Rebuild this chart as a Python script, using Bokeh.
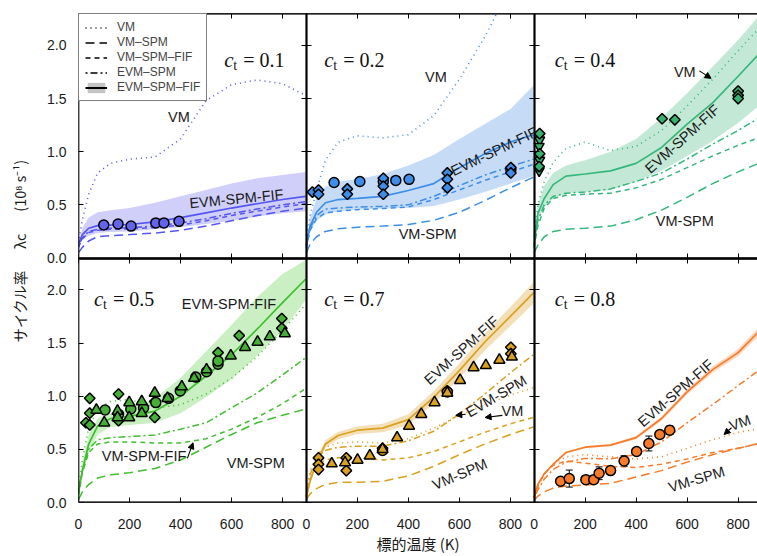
from bokeh.plotting import figure
from bokeh.models import (Range1d, LinearAxis, FixedTicker, Label, CustomJSTickFormatter,
                          Legend, LegendItem, Arrow, NormalHead, Whisker, TeeHead,
                          ColumnDataSource)
from bokeh.embed import file_html
from bokeh.resources import INLINE

# ---------------- data ----------------
T = [0, 15, 40, 75, 125, 200, 300, 400, 500, 600, 700, 800, 890]
X_TICKS = [0, 200, 400, 600, 800]
Y_TICKS = [0.0, 0.5, 1.0, 1.5, 2.0]
CT_LABELS = ["0.1", "0.2", "0.4", "0.5", "0.7", "0.8"]

# c_t = 0.1
VM_01 = [0.14, 0.36, 0.60, 0.80, 0.89, 0.93, 0.95, 1.12, 1.48, 1.63, 1.675, 1.64, 1.53]
VMSPM_01 = [0.05, 0.10, 0.16, 0.20, 0.21, 0.22, 0.235, 0.26, 0.30, 0.35, 0.40, 0.44, 0.47]
VMSPMFIF_01 = [0.10, 0.18, 0.24, 0.26, 0.27, 0.275, 0.285, 0.31, 0.35, 0.40, 0.44, 0.48, 0.51]
EVMSPM_01 = [0.11, 0.19, 0.25, 0.27, 0.28, 0.285, 0.30, 0.33, 0.37, 0.42, 0.46, 0.50, 0.53]
EVMSPMFIF_01 = [0.13, 0.22, 0.28, 0.305, 0.31, 0.315, 0.34, 0.38, 0.425, 0.47, 0.51, 0.55, 0.58]
HI_01 = [0.14, 0.28, 0.38, 0.43, 0.45, 0.47, 0.52, 0.58, 0.64, 0.70, 0.75, 0.78, 0.81]
LO_01 = [0.12, 0.17, 0.21, 0.235, 0.245, 0.25, 0.27, 0.29, 0.32, 0.35, 0.39, 0.42, 0.44]

# c_t = 0.2
VM_02 = [0.12, 0.40, 0.63, 0.92, 1.09, 1.15, 1.13, 1.16, 1.34, 1.68, 2.08, 2.55, 3.0]
VMSPM_02 = [0.05, 0.13, 0.20, 0.25, 0.275, 0.29, 0.30, 0.315, 0.355, 0.43, 0.54, 0.66, 0.76]
VMSPMFIF_02 = [0.09, 0.26, 0.37, 0.425, 0.44, 0.455, 0.465, 0.48, 0.55, 0.64, 0.73, 0.81, 0.88]
EVMSPM_02 = [0.10, 0.28, 0.40, 0.46, 0.47, 0.48, 0.485, 0.50, 0.58, 0.68, 0.78, 0.86, 0.93]
EVMSPMFIF_02 = [0.12, 0.30, 0.43, 0.52, 0.55, 0.56, 0.58, 0.635, 0.70, 0.85, 0.98, 1.09, 1.16]
HI_02 = [0.13, 0.38, 0.56, 0.67, 0.72, 0.74, 0.79, 0.87, 0.97, 1.12, 1.26, 1.40, 1.62]
LO_02 = [0.11, 0.25, 0.35, 0.41, 0.44, 0.455, 0.465, 0.47, 0.49, 0.55, 0.62, 0.70, 0.77]

# c_t = 0.4
VM_04 = [0.20, 0.50, 0.72, 0.90, 1.03, 1.09, 1.01, 1.05, 1.20, 1.43, 1.68, 1.95, 2.18]
VMSPM_04 = [0.05, 0.12, 0.20, 0.25, 0.27, 0.28, 0.30, 0.36, 0.45, 0.57, 0.70, 0.81, 0.90]
VMSPMFIF_04 = [0.10, 0.30, 0.47, 0.56, 0.59, 0.60, 0.61, 0.66, 0.74, 0.85, 0.96, 1.06, 1.14]
EVMSPM_04 = [0.12, 0.35, 0.50, 0.58, 0.61, 0.62, 0.65, 0.72, 0.80, 0.93, 1.07, 1.20, 1.33]
EVMSPMFIF_04 = [0.12, 0.42, 0.56, 0.69, 0.77, 0.79, 0.82, 0.89, 1.04, 1.26, 1.46, 1.71, 1.94]
HI_04 = [0.13, 0.50, 0.68, 0.80, 0.87, 0.92, 1.00, 1.12, 1.32, 1.55, 1.80, 2.05, 2.30]
LO_04 = [0.11, 0.35, 0.48, 0.56, 0.61, 0.62, 0.64, 0.72, 0.82, 0.96, 1.10, 1.27, 1.45]

# c_t = 0.5
VM_05 = [0.10, 0.40, 0.70, 0.88, 0.95, 0.97, 0.89, 0.92, 1.02, 1.17, 1.37, 1.62, 1.86]
VMSPM_05 = [0.03, 0.10, 0.17, 0.23, 0.26, 0.28, 0.32, 0.40, 0.52, 0.64, 0.75, 0.82, 0.88]
VMSPMFIF_05 = [0.07, 0.28, 0.47, 0.55, 0.57, 0.57, 0.56, 0.56, 0.60, 0.69, 0.80, 0.93, 1.07]
EVMSPM_05 = [0.08, 0.30, 0.50, 0.59, 0.61, 0.62, 0.635, 0.69, 0.75, 0.89, 1.03, 1.20, 1.36]
EVMSPMFIF_05 = [0.10, 0.30, 0.55, 0.72, 0.79, 0.81, 0.86, 1.00, 1.19, 1.39, 1.63, 1.88, 2.10]
HI_05 = [0.11, 0.36, 0.64, 0.79, 0.84, 0.88, 0.98, 1.17, 1.42, 1.67, 1.93, 2.15, 2.28]
LO_05 = [0.09, 0.25, 0.47, 0.64, 0.71, 0.73, 0.75, 0.84, 0.99, 1.16, 1.38, 1.62, 1.90]

# c_t = 0.7
VM_07 = [0.08, 0.30, 0.45, 0.52, 0.56, 0.57, 0.56, 0.60, 0.70, 0.82, 0.92, 1.01, 1.08]
VMSPM_07 = [0.03, 0.08, 0.13, 0.17, 0.19, 0.19, 0.20, 0.25, 0.34, 0.45, 0.55, 0.64, 0.71]
VMSPMFIF_07 = [0.06, 0.22, 0.34, 0.40, 0.42, 0.42, 0.40, 0.42, 0.48, 0.57, 0.66, 0.74, 0.80]
EVMSPM_07 = [0.07, 0.26, 0.42, 0.49, 0.52, 0.53, 0.53, 0.58, 0.67, 0.83, 1.02, 1.22, 1.39]
EVMSPMFIF_07 = [0.05, 0.20, 0.38, 0.55, 0.63, 0.68, 0.70, 0.78, 0.99, 1.24, 1.51, 1.75, 1.97]
HI_07 = [0.055, 0.22, 0.41, 0.585, 0.665, 0.715, 0.74, 0.83, 1.05, 1.31, 1.59, 1.84, 2.07]
LO_07 = [0.045, 0.18, 0.35, 0.515, 0.595, 0.645, 0.66, 0.73, 0.93, 1.17, 1.43, 1.66, 1.87]

# c_t = 0.8
VM_08 = [0.05, 0.17, 0.27, 0.36, 0.43, 0.45, 0.43, 0.41, 0.43, 0.51, 0.59, 0.66, 0.70]
VMSPM_08 = [0.02, 0.06, 0.10, 0.135, 0.155, 0.165, 0.18, 0.24, 0.30, 0.38, 0.45, 0.51, 0.56]
VMSPMFIF_08 = [0.04, 0.15, 0.27, 0.35, 0.39, 0.37, 0.34, 0.33, 0.36, 0.41, 0.47, 0.51, 0.56]
EVMSPM_08 = [0.04, 0.12, 0.22, 0.31, 0.38, 0.415, 0.41, 0.45, 0.57, 0.75, 0.92, 1.10, 1.26]
EVMSPMFIF_08 = [0.05, 0.17, 0.27, 0.36, 0.47, 0.52, 0.54, 0.61, 0.79, 1.04, 1.25, 1.41, 1.63]
HI_08 = [0.05, 0.175, 0.28, 0.37, 0.48, 0.53, 0.55, 0.625, 0.81, 1.065, 1.28, 1.445, 1.67]
LO_08 = [0.05, 0.165, 0.26, 0.35, 0.46, 0.51, 0.53, 0.595, 0.77, 1.015, 1.22, 1.375, 1.59]

# measured points
P01_CIRC_X = [99, 155, 206, 303, 335, 394]
P01_CIRC_Y = [0.31, 0.32, 0.30, 0.33, 0.33, 0.345]

P02_DIAM_X = [24, 48, 48, 161, 161, 302, 302, 302, 553, 553, 553, 802, 802]
P02_DIAM_Y = [0.62, 0.64, 0.60, 0.65, 0.60, 0.75, 0.675, 0.60, 0.80, 0.74, 0.66, 0.85, 0.80]
P02_CIRC_X = [109, 210, 302, 351, 403, 802]
P02_CIRC_Y = [0.71, 0.72, 0.72, 0.73, 0.74, 0.83]

P04_DIAM_X = [22, 22, 20, 502, 552, 800, 800, 800]
P04_DIAM_Y = [1.17, 0.98, 0.86, 1.31, 1.30, 1.57, 1.53, 1.50]
P04_ITRI_X = [22, 20, 22, 20]
P04_ITRI_Y = [1.11, 1.05, 0.92, 0.82]

P05_DIAM_X = [44, 44, 29, 44, 157, 157, 299, 299, 547, 630, 797, 797]
P05_DIAM_Y = [0.98, 0.84, 0.75, 0.73, 1.02, 0.77, 0.95, 0.80, 1.41, 1.57, 1.73, 1.64]
P05_TRI_X = [70, 101, 153, 153, 199, 199, 248, 248, 299, 349, 405, 453, 502, 597, 653, 702, 750, 809]
P05_TRI_Y = [0.87, 0.75, 0.86, 0.80, 0.94, 0.80, 0.95, 0.84, 1.03, 0.98, 1.09, 1.17, 1.25, 1.38, 1.46, 1.51, 1.56, 1.59]
P05_CIRC_X = [104, 157, 205, 255, 303, 353, 399, 460, 502, 547, 547]
P05_CIRC_Y = [0.87, 0.83, 0.88, 0.89, 0.94, 0.98, 1.05, 1.18, 1.23, 1.30, 1.33]

P07_TRI_X = [100, 152, 201, 249, 299, 356, 403, 451, 503, 553, 603, 656, 704, 757, 806]
P07_TRI_Y = [0.365, 0.375, 0.40, 0.44, 0.50, 0.61, 0.72, 0.83, 0.94, 1.03, 1.15, 1.27, 1.29, 1.34, 1.37]
P07_DIAM_X = [48, 48, 48, 157, 157, 299, 553, 802, 802]
P07_DIAM_Y = [0.42, 0.36, 0.31, 0.42, 0.30, 0.51, 1.05, 1.46, 1.40]
P07_CIRC_X = [299, 553]
P07_CIRC_Y = [0.49, 1.04]

P08_X = [104, 138, 203, 234, 255, 300, 353, 402, 450, 493, 532]
P08_Y = [0.20, 0.225, 0.215, 0.215, 0.275, 0.30, 0.39, 0.48, 0.555, 0.64, 0.68]
P08_ERR = [0.03, 0.08, 0.025, 0.025, 0.06, 0.03, 0.05, 0.03, 0.07, 0.03, 0.04]

# ---------------- styling / layout ----------------
COL_SPAN = 893.0          # x units of one full panel
Y_SPAN = 2.3
FULL_X = 2662.0           # two full panels + the cut third one
FULL_Y = 4.6

LINE_STYLE = {
    "VM": dict(line_dash="1 4", line_width=1.6),
    "VMSPM": dict(line_dash="9 5", line_width=1.5),
    "VMSPMFIF": dict(line_dash="5 4", line_width=1.5),
    "EVMSPM": dict(line_dash="2 3 7 3", line_width=1.5),
    "EVMSPMFIF": dict(line_dash="solid", line_width=1.7),
}

PANELS = [
    dict(r=0, c=0, line="#5555f2", band="#cfcffa", mk="#6464ea",
         VM=VM_01, VMSPM=VMSPM_01, VMSPMFIF=VMSPMFIF_01, EVMSPM=EVMSPM_01,
         EVMSPMFIF=EVMSPMFIF_01, HI=HI_01, LO=LO_01,
         pts=[("circle", P01_CIRC_X, P01_CIRC_Y)]),
    dict(r=0, c=1, line="#3d8ee8", band="#c6dcf6", mk="#3d8ee8",
         VM=VM_02, VMSPM=VMSPM_02, VMSPMFIF=VMSPMFIF_02, EVMSPM=EVMSPM_02,
         EVMSPMFIF=EVMSPMFIF_02, HI=HI_02, LO=LO_02,
         pts=[("circle", P02_CIRC_X, P02_CIRC_Y), ("diamond", P02_DIAM_X, P02_DIAM_Y)]),
    dict(r=0, c=2, line="#35b77b", band="#c3e9d6", mk="#38b070",
         VM=VM_04, VMSPM=VMSPM_04, VMSPMFIF=VMSPMFIF_04, EVMSPM=EVMSPM_04,
         EVMSPMFIF=EVMSPMFIF_04, HI=HI_04, LO=LO_04,
         pts=[("inverted_triangle", P04_ITRI_X, P04_ITRI_Y), ("diamond", P04_DIAM_X, P04_DIAM_Y)]),
    dict(r=1, c=0, line="#3fbf2f", band="#c9efc2", mk="#45b035",
         VM=VM_05, VMSPM=VMSPM_05, VMSPMFIF=VMSPMFIF_05, EVMSPM=EVMSPM_05,
         EVMSPMFIF=EVMSPMFIF_05, HI=HI_05, LO=LO_05,
         pts=[("diamond", P05_DIAM_X, P05_DIAM_Y), ("circle", P05_CIRC_X, P05_CIRC_Y),
              ("triangle", P05_TRI_X, P05_TRI_Y)]),
    dict(r=1, c=1, line="#d9a11f", band="#f4e0b8", mk="#d9a11f",
         VM=VM_07, VMSPM=VMSPM_07, VMSPMFIF=VMSPMFIF_07, EVMSPM=EVMSPM_07,
         EVMSPMFIF=EVMSPMFIF_07, HI=HI_07, LO=LO_07,
         pts=[("diamond", P07_DIAM_X, P07_DIAM_Y), ("circle", P07_CIRC_X, P07_CIRC_Y),
              ("triangle", P07_TRI_X, P07_TRI_Y)]),
    dict(r=1, c=2, line="#f77b29", band="#fcd7bd", mk="#f77b29",
         VM=VM_08, VMSPM=VMSPM_08, VMSPMFIF=VMSPMFIF_08, EVMSPM=EVMSPM_08,
         EVMSPMFIF=EVMSPMFIF_08, HI=HI_08, LO=LO_08,
         pts=[("circle", P08_X, P08_Y)]),
]

MARKER_STYLE = {
    "circle": dict(marker="circle", size=10, angle=0.0),
    "diamond": dict(marker="square", size=7.5, angle=0.785398),
    "triangle": dict(marker="triangle", size=11, angle=0.0),
    "inverted_triangle": dict(marker="inverted_triangle", size=10, angle=0.0),
}

# in-panel annotations: (panel index, text, x, y, angle in deg)
TEXTS = [
    (0, "VM", 394, 1.325, 0), (0, "EVM-SPM-FIF", 619, 0.557, 5.6),
    (1, "VM", 508, 1.70, 0), (1, "EVM-SPM-FIF", 736, 1.003, 25.6), (1, "VM-SPM", 476, 0.222, 0),
    (2, "VM", 591, 1.75, 0), (2, "EVM-SPM-FIF", 581, 1.12, 42), (2, "VM-SPM", 591, 0.347, 0),
    (3, "EVM-SPM-FIF", 590, 1.865, 0), (3, "VM-SPM-FIF", 257, 0.437, 0), (3, "VM-SPM", 695, 0.375, 0),
    (4, "EVM-SPM-FIF", 608, 1.43, 42), (4, "EVM-SPM", 745, 1.0, 30.5), (4, "VM", 808, 0.86, 0),
    (4, "VM-SPM", 602, 0.265, 23),
    (5, "EVM-SPM-FIF", 555, 1.03, 41), (5, "VM", 807, 0.75, 20), (5, "VM-SPM", 637, 0.218, 17),
]
ARROWS = [
    (2, 648, 1.76, 694, 1.69),
    (3, 427, 0.415, 449, 0.562),
    (4, 625, 0.83, 586, 0.82),
    (4, 769, 0.82, 701, 0.80),
    (5, 774, 0.703, 745, 0.64),
]
TITLE_POS = [(571, 1.862), (70, 1.862), (81.5, 1.862), (61, 1.91), (70, 1.91), (81.5, 1.91)]

# ---------------- figure ----------------
p = figure(width=757, height=556, x_range=Range1d(0, FULL_X), y_range=Range1d(0, FULL_Y),
           x_axis_location=None, y_axis_location=None, toolbar_location=None,
           output_backend="svg", min_border_left=78, min_border_right=0,
           min_border_top=13, min_border_bottom=53, outline_line_color=None,
           background_fill_color="white", border_fill_color="white")
p.xgrid.visible = False
p.ygrid.visible = False

p.extra_x_ranges = {
    "c0": Range1d(0, FULL_X),
    "c1": Range1d(-COL_SPAN, FULL_X - COL_SPAN),
    "c2": Range1d(-2 * COL_SPAN, FULL_X - 2 * COL_SPAN),
}
p.extra_y_ranges = {
    "r0": Range1d(-Y_SPAN, FULL_Y - Y_SPAN),
    "r1": Range1d(0, FULL_Y),
}

# --- tick-label axes (normal side axes on the page-wide ranges) ---
xlab_ticks = [c * COL_SPAN + t for c in range(3) for t in X_TICKS]
ax_b = LinearAxis(ticker=FixedTicker(ticks=xlab_ticks, minor_ticks=[]),
                  formatter=CustomJSTickFormatter(code="""
                      const v = tick - 893 * Math.floor((tick + 0.5) / 893);
                      return Math.round(v).toString();"""))
ylab_ticks = Y_TICKS + [y + Y_SPAN for y in Y_TICKS]
ax_l = LinearAxis(ticker=FixedTicker(ticks=ylab_ticks, minor_ticks=[]),
                  formatter=CustomJSTickFormatter(code="""
                      const v = tick > 2.29 ? tick - 2.3 : tick;
                      return v.toFixed(1);"""))
for ax, so in ((ax_b, 16), (ax_l, 12)):
    ax.axis_line_color = None
    ax.major_tick_line_color = None
    ax.minor_tick_line_color = None
    ax.major_tick_in = 0
    ax.major_tick_out = 0
    ax.major_label_text_font = "Liberation Sans"
    ax.major_label_text_font_size = "14px"
    ax.major_label_text_color = "#1a1a1a"
    ax.major_label_standoff = so
p.add_layout(ax_b, "below")
p.add_layout(ax_l, "left")

# --- axis-title axes, stacked outside the tick-label axes ---
ax_xt = LinearAxis(ticker=FixedTicker(ticks=[], minor_ticks=[]), bounds=(1123, 1323))
ax_xt.axis_label = "標的温度 (K)"
ax_xt.axis_label_standoff = 1
ax_yt = LinearAxis(ticker=FixedTicker(ticks=[], minor_ticks=[]))
ax_yt.axis_label = "\u2003サイクル率\u2003\u2002λc\u2003\u2002(10⁸ s⁻¹)"
ax_yt.axis_label_standoff = 15
for ax, fs in ((ax_xt, "15px"), (ax_yt, "14.5px")):
    ax.axis_line_color = None
    ax.major_tick_line_color = None
    ax.minor_tick_line_color = None
    ax.major_tick_in = 0
    ax.major_tick_out = 0
    ax.major_label_text_font_size = "0px"
    ax.major_label_standoff = 0
    ax.axis_label_text_font = "Noto Sans CJK JP"
    ax.axis_label_text_font_size = fs
    ax.axis_label_text_font_style = "normal"
    ax.axis_label_text_color = "#1a1a1a"
p.add_layout(ax_xt, "below")
p.add_layout(ax_yt, "left")


# --- frame lines + inward ticks for each panel (drawn at fixed locations) ---
def tick_axis(side, xr, yr, loc):
    ax = LinearAxis(x_range_name=xr, y_range_name=yr, fixed_location=loc)
    horiz = side in ("below", "above")
    ax.ticker = FixedTicker(ticks=X_TICKS if horiz else Y_TICKS, minor_ticks=[])
    ax.major_tick_in = 5
    ax.major_tick_out = 0
    ax.minor_tick_in = 0
    ax.minor_tick_out = 0
    ax.axis_line_color = "black"
    ax.axis_line_width = 1.4
    ax.major_tick_line_color = "black"
    ax.major_tick_line_width = 1
    ax.major_label_text_color = None
    ax.major_label_text_font_size = "0px"
    ax.major_label_standoff = 0
    p.add_layout(ax, side)


for r in (0, 1):
    for c in (0, 1, 2):
        xr, yr = f"c{c}", f"r{r}"
        tick_axis("below", xr, yr, 0)
        tick_axis("above", xr, yr, Y_SPAN)
        tick_axis("left", xr, yr, 0)
        if c < 2:
            tick_axis("right", xr, yr, COL_SPAN)

# ---------------- panels ----------------
for i, pan in enumerate(PANELS):
    xr, yr = f"c{pan['c']}", f"r{pan['r']}"
    kw = dict(x_range_name=xr, y_range_name=yr)
    p.varea(x=T, y1=pan["LO"], y2=pan["HI"], fill_color=pan["band"], fill_alpha=1.0, **kw)
    for key in ("VMSPM", "VMSPMFIF", "EVMSPM", "VM", "EVMSPMFIF"):
        p.line(x=T, y=pan[key], line_color=pan["line"], **LINE_STYLE[key], **kw)
    if i == 5:
        src = ColumnDataSource(dict(x=P08_X,
                                    upper=[y + e for y, e in zip(P08_Y, P08_ERR)],
                                    lower=[y - e for y, e in zip(P08_Y, P08_ERR)]))
        wh = Whisker(source=src, base="x", upper="upper", lower="lower", dimension="height",
                     line_color="black", line_width=1, level="underlay",
                     upper_head=TeeHead(size=7, line_color="black", line_width=1),
                     lower_head=TeeHead(size=7, line_color="black", line_width=1), **kw)
        p.add_layout(wh)
    for mname, xs, ys in pan["pts"]:
        st = MARKER_STYLE[mname]
        p.scatter(x=xs, y=ys, marker=st["marker"], size=st["size"], angle=st["angle"],
                  fill_color=pan["mk"], line_color="black", line_width=1.5, **kw)
    # panel title  c_t = ...
    tx, ty = TITLE_POS[i]
    p.add_layout(Label(x=tx, y=ty, text="c", text_font="Liberation Serif",
                       text_font_style="italic", text_font_size="21px",
                       text_baseline="alphabetic", text_color="#111", **kw))
    p.add_layout(Label(x=tx, y=ty, x_offset=9, y_offset=-5, text="t",
                       text_font="Liberation Serif", text_font_size="14px",
                       text_baseline="alphabetic", text_color="#111", **kw))
    p.add_layout(Label(x=tx, y=ty, x_offset=19, text="= " + CT_LABELS[i],
                       text_font="Liberation Serif", text_font_size="20px",
                       text_baseline="alphabetic", text_color="#111", **kw))

for (i, txt, x, y, ang) in TEXTS:
    pan = PANELS[i]
    p.add_layout(Label(x=x, y=y, text=txt, angle=ang, angle_units="deg",
                       text_align="center", text_baseline="middle",
                       text_font="Liberation Sans", text_font_size="14.5px", text_color="#1a1a1a",
                       x_range_name=f"c{pan['c']}", y_range_name=f"r{pan['r']}"))

for (i, x0, y0, x1, y1) in ARROWS:
    pan = PANELS[i]
    p.add_layout(Arrow(x_start=x0, y_start=y0, x_end=x1, y_end=y1, line_color="black",
                       line_width=1.1,
                       end=NormalHead(size=6, fill_color="black", line_color="black"),
                       x_range_name=f"c{pan['c']}", y_range_name=f"r{pan['r']}"))

# ---------------- legend (key-only renderers, no visible data) ----------------
NAN = [float("nan")]
lg_vm = p.line(x=NAN, y=NAN, line_color="black", line_dash="1 4", line_width=1.6)
lg_vmspm = p.line(x=NAN, y=NAN, line_color="black", line_dash="9 5", line_width=1.6)
lg_vmspmfif = p.line(x=NAN, y=NAN, line_color="black", line_dash="5 4", line_width=1.6)
lg_evmspm = p.line(x=NAN, y=NAN, line_color="black", line_dash="2 3 7 3", line_width=1.6)
lg_band = p.varea(x=NAN, y1=NAN, y2=NAN, fill_color="#c4c4c4")
lg_solid = p.line(x=NAN, y=NAN, line_color="black", line_width=2)

legend = Legend(items=[
    LegendItem(label="VM", renderers=[lg_vm]),
    LegendItem(label="VM–SPM", renderers=[lg_vmspm]),
    LegendItem(label="VM–SPM–FIF", renderers=[lg_vmspmfif]),
    LegendItem(label="EVM–SPM", renderers=[lg_evmspm]),
    LegendItem(label="EVM–SPM–FIF", renderers=[lg_band, lg_solid]),
], location="top_left", margin=0, padding=6, spacing=1,
    label_text_font="Liberation Sans", label_text_font_size="12px",
    glyph_width=22, glyph_height=13, label_height=13, label_standoff=10,
    border_line_color="black", border_line_width=1,
    background_fill_color="white", background_fill_alpha=1.0)
p.add_layout(legend)

open("out.html", "w").write(file_html(p, INLINE))
